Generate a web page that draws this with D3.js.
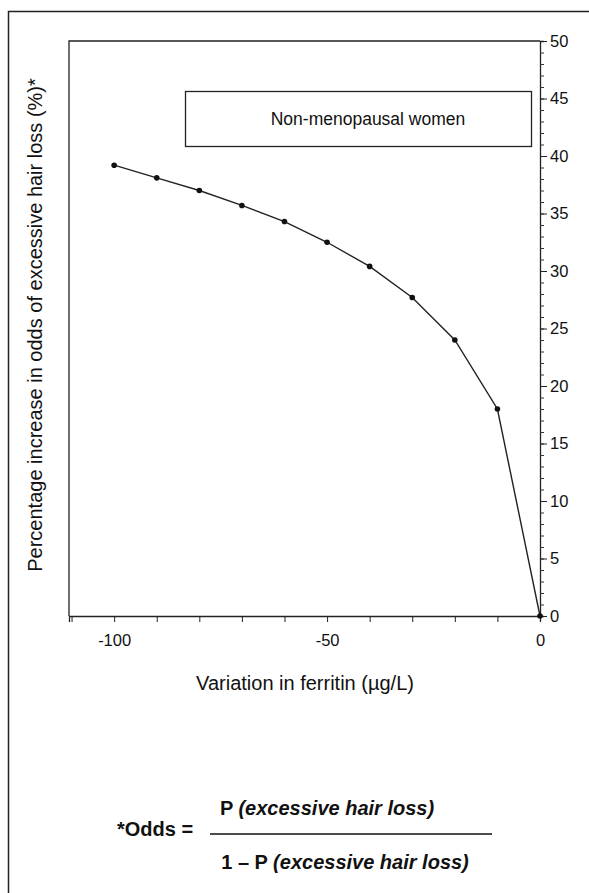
<!DOCTYPE html>
<html>
<head>
<meta charset="utf-8">
<script src="https://cdn.jsdelivr.net/npm/d3@7"></script>
<style>
  body { margin: 0; background: #fff; }
  svg text { font-family: "Liberation Sans", Arial, sans-serif; fill: #111; }
</style>
</head>
<body>
<div id="chart"></div>
<script>
// data
var ferritin = [-100, -90, -80, -70, -60, -50, -40, -30, -20, -10, 0];
var oddsIncrease = [39.2, 38.1, 37.0, 35.7, 34.3, 32.5, 30.4, 27.7, 24.0, 18.0, 0];
var xTickValues = [-110, -100, -90, -80, -70, -60, -50, -40, -30, -20, -10, 0];
var xTickLabels = [-100, -50, 0];
var yTickLabels = [0, 5, 10, 15, 20, 25, 30, 35, 40, 45, 50];

var svgWidth = 589;
var svgHeight = 893;

var margin = { top: 41, right: 49, bottom: 277, left: 69 };
var width = svgWidth - margin.left - margin.right;
var height = svgHeight - margin.top - margin.bottom;

var svg = d3.select("#chart")
    .append("svg")
    .attr("width", svgWidth)
    .attr("height", svgHeight);

// outer frame (runs off the right and bottom of the picture)
svg.append("rect")
    .attr("x", 8.5).attr("y", 11.5)
    .attr("width", svgWidth + 10).attr("height", svgHeight + 10)
    .attr("fill", "none").attr("stroke", "#222").attr("stroke-width", 1.5);

var chartGroup = svg.append("g")
    .attr("transform", `translate(${margin.left}, ${margin.top})`);

var xScale = d3.scaleLinear().domain([-110.6, 0]).range([0, width]);
var yScale = d3.scaleLinear().domain([0, 50]).range([height, 0]);

// plot box: left and top lines
chartGroup.append("path")
    .attr("d", `M0,${height}V0H${width}`)
    .attr("fill", "none").attr("stroke", "#222").attr("stroke-width", 1.3);

// bottom axis
var bottomAxis = d3.axisBottom(xScale)
    .tickValues(xTickValues)
    .tickSize(6)
    .tickFormat(d => xTickLabels.indexOf(d) >= 0 ? d : "");
var xAxis = chartGroup.append("g")
    .attr("transform", `translate(0, ${height})`)
    .call(bottomAxis);
xAxis.select(".domain").attr("stroke", "#222").attr("stroke-width", 1.3);
xAxis.selectAll(".tick line").attr("stroke", "#222");
xAxis.selectAll(".tick text")
    .attr("y", 18)
    .style("font-size", "16.5px")
    .text(d => xTickLabels.indexOf(d) >= 0 ? (d === 0 ? "0" : d) : "");

// right axis, minor ticks every 1
var minorAxis = d3.axisRight(yScale)
    .tickValues(d3.range(0, 51, 1))
    .tickSize(4)
    .tickFormat("");
var yMinor = chartGroup.append("g")
    .attr("transform", `translate(${width}, 0)`)
    .call(minorAxis);
yMinor.select(".domain").attr("stroke", "#222").attr("stroke-width", 1.3);
yMinor.selectAll(".tick line").attr("stroke", "#333");

// right axis, major ticks with labels
var rightAxis = d3.axisRight(yScale)
    .tickValues(yTickLabels)
    .tickSize(7)
    .tickPadding(3);
var yAxis = chartGroup.append("g")
    .attr("transform", `translate(${width}, 0)`)
    .call(rightAxis);
yAxis.select(".domain").remove();
yAxis.selectAll(".tick line").attr("stroke", "#222");
yAxis.selectAll(".tick text").style("font-size", "16.5px");

// line and points
var points = ferritin.map((f, i) => ({ x: f, y: oddsIncrease[i] }));
var line = d3.line().x(d => xScale(d.x)).y(d => yScale(d.y));

chartGroup.append("path")
    .datum(points)
    .attr("d", line)
    .attr("fill", "none")
    .attr("stroke", "#222")
    .attr("stroke-width", 1.4);

chartGroup.selectAll("circle")
    .data(points)
    .enter()
    .append("circle")
    .attr("cx", d => xScale(d.x))
    .attr("cy", d => yScale(d.y))
    .attr("r", 2.8)
    .attr("fill", "#111");

// legend box
chartGroup.append("rect")
    .attr("x", 116.5).attr("y", 50.5)
    .attr("width", 346).attr("height", 55)
    .attr("fill", "none").attr("stroke", "#222").attr("stroke-width", 1.3);
chartGroup.append("text")
    .attr("x", 299).attr("y", 84)
    .attr("text-anchor", "middle")
    .style("font-size", "17.5px")
    .text("Non-menopausal women");

// axis titles
chartGroup.append("text")
    .attr("transform", "rotate(-90)")
    .attr("x", 0 - 284)
    .attr("y", -27)
    .attr("text-anchor", "middle")
    .style("font-size", "20px")
    .text("Percentage increase in odds of excessive hair loss (%)*");

chartGroup.append("text")
    .attr("x", 305 - margin.left)
    .attr("y", height + 74)
    .attr("text-anchor", "middle")
    .style("font-size", "20px")
    .text("Variation in ferritin (\u00b5g/L)");

// odds formula footnote
var formula = svg.append("g");
formula.append("text")
    .attr("x", 117).attr("y", 836)
    .style("font-size", "20px").style("font-weight", "bold")
    .text("*Odds =");
formula.append("line")
    .attr("x1", 210).attr("x2", 492)
    .attr("y1", 834).attr("y2", 834)
    .attr("stroke", "#111").attr("stroke-width", 1.5);

var num = formula.append("text")
    .attr("x", 327).attr("y", 815)
    .attr("text-anchor", "middle")
    .style("font-size", "20px").style("font-weight", "bold");
num.append("tspan").text("P ");
num.append("tspan").style("font-style", "italic").text("(excessive hair loss)");

var den = formula.append("text")
    .attr("x", 345).attr("y", 869)
    .attr("text-anchor", "middle")
    .style("font-size", "20px").style("font-weight", "bold");
den.append("tspan").text("1 \u2013 P ");
den.append("tspan").style("font-style", "italic").text("(excessive hair loss)");
</script>
</body>
</html>
